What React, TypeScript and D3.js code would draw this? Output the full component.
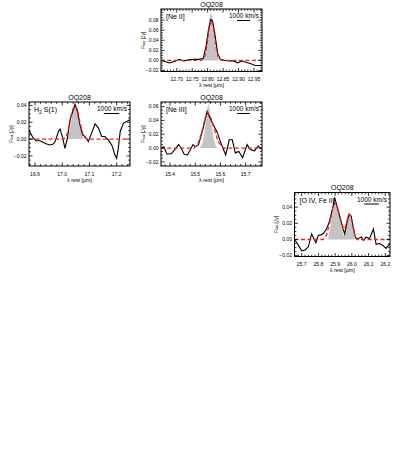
import * as d3 from 'd3';

const TITLE = 'OQ208';
const C_KMS = 299792.458;

// [Ne II] 12.81 um
const neIIWave = [12.648, 12.662, 12.676, 12.692, 12.708, 12.722, 12.740, 12.756, 12.772, 12.786, 12.795, 12.803, 12.810, 12.816, 12.824, 12.832, 12.840, 12.855, 12.870, 12.884, 12.897, 12.910, 12.922, 12.938, 12.954, 12.976];
const neIIFlux = [0.000, -0.002, -0.005, -0.002, 0.002, -0.001, 0.001, 0.002, 0.002, 0.004, 0.029, 0.062, 0.081, 0.078, 0.050, 0.015, 0.003, 0.000, -0.001, -0.001, -0.005, -0.001, -0.003, -0.006, -0.010, -0.010];
const neIIFitWave = [12.648, 12.780, 12.790, 12.798, 12.805, 12.812, 12.819, 12.826, 12.834, 12.845, 12.976];
const neIIFitFlux = [0, 0, 0.006, 0.030, 0.065, 0.080, 0.065, 0.030, 0.006, 0, 0];
const neIIProfWave = [12.782, 12.792, 12.800, 12.806, 12.811, 12.816, 12.822, 12.830, 12.838];
const neIIProfFlux = [0, 0.010, 0.045, 0.085, 0.095, 0.085, 0.045, 0.010, 0];

// H2 S(1) 17.03 um
const h2Wave = [16.878, 16.894, 16.904, 16.918, 16.931, 16.943, 16.955, 16.967, 16.974, 16.986, 16.992, 17.002, 17.010, 17.019, 17.029, 17.039, 17.047, 17.056, 17.065, 17.075, 17.084, 17.096, 17.108, 17.121, 17.133, 17.145, 17.157, 17.169, 17.182, 17.194, 17.200, 17.206, 17.213, 17.225, 17.249];
const h2Flux = [0.010, 0.001, -0.002, -0.002, -0.004, -0.006, -0.007, -0.006, -0.003, 0.009, 0.012, 0.001, -0.011, 0.001, 0.023, 0.033, 0.041, 0.033, 0.017, 0.005, 0.003, -0.003, 0.007, 0.018, 0.013, 0.003, 0.003, -0.001, -0.007, -0.019, -0.023, -0.011, 0.009, 0.019, 0.023];
const h2FitWave = [16.878, 17.005, 17.015, 17.025, 17.035, 17.045, 17.055, 17.065, 17.075, 17.085, 17.095, 17.249];
const h2FitFlux = [0, 0, 0.003, 0.015, 0.032, 0.040, 0.036, 0.020, 0.007, 0.001, 0, 0];
const h2ProfWave = [17.020, 17.030, 17.040, 17.048, 17.056, 17.066, 17.078];
const h2ProfFlux = [0, 0.015, 0.035, 0.043, 0.035, 0.015, 0];

// [Ne III] 15.55 um
const neIIIWave = [15.363, 15.375, 15.388, 15.406, 15.419, 15.434, 15.444, 15.456, 15.469, 15.481, 15.491, 15.500, 15.513, 15.531, 15.547, 15.567, 15.587, 15.600, 15.612, 15.621, 15.635, 15.647, 15.659, 15.673, 15.688, 15.706, 15.718, 15.735, 15.750, 15.765];
const neIIIFlux = [0.000, 0.002, -0.009, -0.008, -0.002, 0.005, 0.000, -0.009, -0.010, -0.002, 0.005, 0.002, 0.005, 0.028, 0.053, 0.037, 0.023, 0.009, -0.002, -0.010, 0.012, 0.012, -0.007, -0.005, -0.014, 0.005, -0.002, -0.004, 0.003, -0.002];
const neIIIFitWave = [15.363, 15.495, 15.510, 15.525, 15.538, 15.548, 15.560, 15.575, 15.590, 15.605, 15.615, 15.765];
const neIIIFitFlux = [0, 0, 0.005, 0.022, 0.042, 0.052, 0.046, 0.028, 0.010, 0.002, 0, 0];
const neIIIProfWave = [15.518, 15.528, 15.536, 15.543, 15.548, 15.552, 15.556, 15.562, 15.570, 15.578, 15.588];
const neIIIProfFlux = [0, 0.006, 0.020, 0.042, 0.058, 0.064, 0.058, 0.042, 0.020, 0.006, 0];

// [O IV] + [Fe II] 25.9 um
const oIVWave = [25.657, 25.680, 25.700, 25.720, 25.740, 25.759, 25.773, 25.785, 25.799, 25.819, 25.832, 25.848, 25.864, 25.888, 25.897, 25.908, 25.927, 25.947, 25.957, 25.971, 25.983, 25.996, 26.006, 26.022, 26.036, 26.056, 26.070, 26.085, 26.105, 26.129, 26.145, 26.164, 26.184, 26.204, 26.228];
const oIVFlux = [0.000, -0.007, -0.014, -0.013, -0.009, 0.007, 0.001, -0.004, 0.005, 0.006, 0.008, 0.013, 0.021, 0.041, 0.052, 0.043, 0.029, 0.013, 0.007, 0.021, 0.031, 0.029, 0.017, 0.002, 0.001, 0.003, -0.001, 0.003, 0.001, 0.013, -0.006, -0.005, -0.007, -0.011, -0.005];
const oIVFitWave = [25.657, 25.828, 25.848, 25.868, 25.888, 25.902, 25.918, 25.937, 25.957, 25.977, 25.987, 26.003, 26.017, 26.030, 26.228];
const oIVFitFlux = [0, 0, 0.005, 0.021, 0.041, 0.046, 0.037, 0.019, 0.013, 0.027, 0.031, 0.021, 0.005, 0, 0];
const oIVProfWave = [25.858, 25.872, 25.883, 25.895, 25.907, 25.923, 25.937, 25.951, 25.962, 25.974, 25.984, 25.996, 26.006, 26.018];
const oIVProfFlux = [0, 0.017, 0.037, 0.050, 0.047, 0.033, 0.017, 0.004, 0.017, 0.031, 0.033, 0.025, 0.013, 0];

const neIIXTicks = [12.70, 12.75, 12.80, 12.85, 12.90, 12.95];
const neIIYTicks = [-0.02, 0.00, 0.02, 0.04, 0.06, 0.08];
const h2XTicks = [16.9, 17.0, 17.1, 17.2];
const h2YTicks = [-0.02, 0.00, 0.02, 0.04];
const neIIIXTicks = [15.4, 15.5, 15.6, 15.7];
const neIIIYTicks = [-0.02, 0.00, 0.02, 0.04, 0.06];
const oIVXTicks = [25.7, 25.8, 25.9, 26.0, 26.1, 26.2];
const oIVYTicks = [-0.02, 0.00, 0.02, 0.04];

const zip = (a: number[], b: number[]) => a.map((v, i) => [v, b[i]] as [number, number]);

const panels = [
  {
    id: 'neii', label: '[Ne II]', lambda0: 12.81,
    box: { left: 161, right: 262, top: 9, bottom: 71.5 },
    xDomain: [12.649, 12.976], yDomain: [-0.022, 0.102],
    xTicks: neIIXTicks, yTicks: neIIYTicks, xMinor: 0.01, yMinor: 0.005, xDec: 2,
    spec: zip(neIIWave, neIIFlux), fit: zip(neIIFitWave, neIIFitFlux), prof: zip(neIIProfWave, neIIProfFlux),
  },
  {
    id: 'h2', label: 'H2', lambda0: 17.035,
    box: { left: 29, right: 130, top: 102, bottom: 166 },
    xDomain: [16.878, 17.249], yDomain: [-0.032, 0.044],
    xTicks: h2XTicks, yTicks: h2YTicks, xMinor: 0.02, yMinor: 0.005, xDec: 1,
    spec: zip(h2Wave, h2Flux), fit: zip(h2FitWave, h2FitFlux), prof: zip(h2ProfWave, h2ProfFlux),
  },
  {
    id: 'neiii', label: '[Ne III]', lambda0: 15.555,
    box: { left: 161, right: 262, top: 102, bottom: 166 },
    xDomain: [15.364, 15.765], yDomain: [-0.026, 0.0667],
    xTicks: neIIIXTicks, yTicks: neIIIYTicks, xMinor: 0.02, yMinor: 0.005, xDec: 1,
    spec: zip(neIIIWave, neIIIFlux), fit: zip(neIIIFitWave, neIIIFitFlux), prof: zip(neIIIProfWave, neIIIProfFlux),
  },
  {
    id: 'oiv', label: '[O IV, Fe II]', lambda0: 25.9,
    box: { left: 294.5, right: 390, top: 192.5, bottom: 256.5 },
    xDomain: [25.657, 26.228], yDomain: [-0.021, 0.058],
    xTicks: oIVXTicks, yTicks: oIVYTicks, xMinor: 0.02, yMinor: 0.005, xDec: 1,
    spec: zip(oIVWave, oIVFlux), fit: zip(oIVFitWave, oIVFitFlux), prof: zip(oIVProfWave, oIVProfFlux),
  },
];

const FONT = 'Liberation Sans, Arial, sans-serif';

function minorTicks(dom: number[], step: number) {
  const out: number[] = [];
  const start = Math.ceil(dom[0] / step - 1e-6);
  const end = Math.floor(dom[1] / step + 1e-6);
  for (let i = start; i <= end; i++) out.push(i * step);
  return out;
}

function Panel({ p }: { p: (typeof panels)[number] }) {
  const { box } = p;
  const x = d3.scaleLinear().domain(p.xDomain).range([box.left, box.right]);
  const y = d3.scaleLinear().domain(p.yDomain).range([box.bottom, box.top]);
  const line = d3.line<[number, number]>().x((d) => x(d[0])).y((d) => y(d[1]));
  const area = d3.area<[number, number]>().x((d) => x(d[0])).y0(y(0)).y1((d) => y(d[1]));
  const cx = (box.left + box.right) / 2;
  const cy = (box.top + box.bottom) / 2;
  const bar = x(p.lambda0 * (1 + 1000 / C_KMS)) - x(p.lambda0);
  const kmsX = box.right - 3;
  const kmsMid = kmsX - 15.5;
  const xfmt = d3.format(`.${p.xDec}f`);
  const yfmt = d3.format('.2f');
  const clip = `clip-${p.id}`;

  const ticks: JSX.Element[] = [];
  minorTicks(p.xDomain, p.xMinor).forEach((t, i) => {
    const major = p.xTicks.some((v) => Math.abs(v - t) < 1e-6);
    const len = major ? 3.5 : 1.8;
    ticks.push(<line key={`xb${i}`} x1={x(t)} x2={x(t)} y1={box.bottom} y2={box.bottom - len} />);
    ticks.push(<line key={`xt${i}`} x1={x(t)} x2={x(t)} y1={box.top} y2={box.top + len} />);
  });
  minorTicks(p.yDomain, p.yMinor).forEach((t, i) => {
    const major = p.yTicks.some((v) => Math.abs(v - t) < 1e-6);
    const len = major ? 3.5 : 1.8;
    ticks.push(<line key={`yl${i}`} x1={box.left} x2={box.left + len} y1={y(t)} y2={y(t)} />);
    ticks.push(<line key={`yr${i}`} x1={box.right} x2={box.right - len} y1={y(t)} y2={y(t)} />);
  });

  return (
    <g fontFamily={FONT} fill="#000">
      <clipPath id={clip}>
        <rect x={box.left} y={box.top} width={box.right - box.left} height={box.bottom - box.top} />
      </clipPath>
      <g clipPath={`url(#${clip})`}>
        <path d={area(p.prof) ?? ''} fill="#c4c4c4" stroke="none" />
        <path d={line(p.spec) ?? ''} fill="none" stroke="#000" strokeWidth={1.1} />
        <path d={line(p.fit) ?? ''} fill="none" stroke="#ff1a1a" strokeWidth={1.3} strokeDasharray="4,2.5" />
      </g>
      <rect x={box.left} y={box.top} width={box.right - box.left} height={box.bottom - box.top} fill="none" stroke="#000" strokeWidth={1} />
      <g stroke="#000" strokeWidth={0.8}>{ticks}</g>
      {p.xTicks.map((t) => (
        <text key={`xl${t}`} x={x(t)} y={box.bottom + 9.5} fontSize={5} textAnchor="middle">{xfmt(t)}</text>
      ))}
      {p.yTicks.map((t) => (
        <text key={`yl${t}`} x={box.left - 2.5} y={y(t) + 1.8} fontSize={5} textAnchor="end">{yfmt(t)}</text>
      ))}
      <text x={cx} y={box.top - 2.5} fontSize={7} textAnchor="middle">{TITLE}</text>
      <text x={cx} y={box.bottom + 15.5} fontSize={5.3} textAnchor="middle">λ rest [μm]</text>
      <text transform={`translate(${box.left - 16.5},${cy}) rotate(-90)`} fontSize={5} textAnchor="middle">
        F<tspan fontSize={4}>lux</tspan> [Jy]
      </text>
      <text x={box.left + 5} y={box.top + 10} fontSize={7}>
        {p.label === 'H2' ? (
          <>H<tspan fontSize={5} dy={2}>2</tspan><tspan dy={-2}> S(1)</tspan></>
        ) : p.label}
      </text>
      <text x={kmsX} y={box.top + 9} fontSize={6.5} textAnchor="end">1000 km/s</text>
      <line x1={kmsMid - bar / 2} x2={kmsMid + bar / 2} y1={box.top + 11.5} y2={box.top + 11.5} stroke="#000" strokeWidth={1} />
    </g>
  );
}

export default function App() {
  return (
    <svg width={399} height={460} style={{ position: 'absolute', left: 0, top: 0 }}>
      <rect width={399} height={460} fill="#fff" />
      {panels.map((p) => <Panel key={p.id} p={p} />)}
    </svg>
  );
}
